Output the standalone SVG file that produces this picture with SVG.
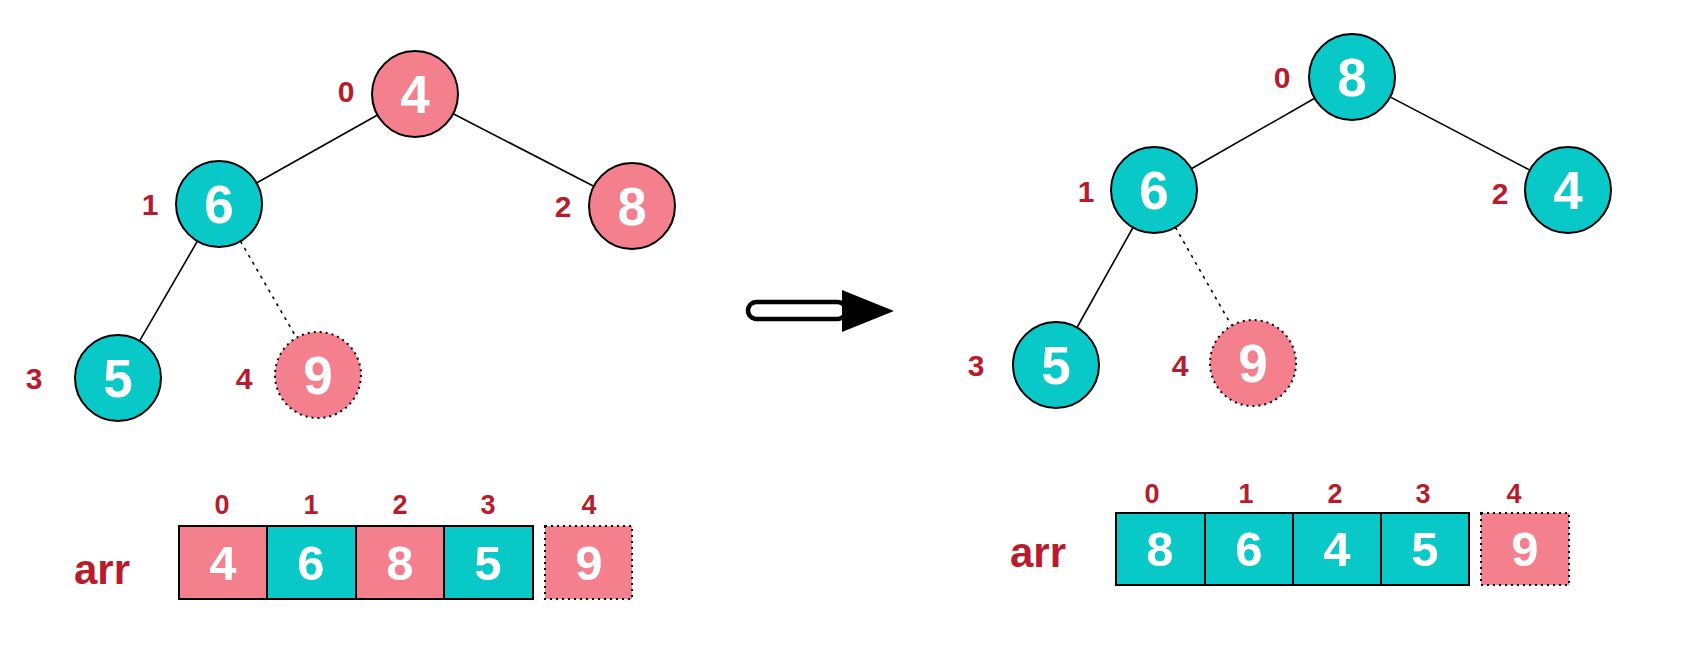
<svg xmlns="http://www.w3.org/2000/svg" width="1682" height="660" viewBox="0 0 1682 660">
<style>
.pink{fill:#F47F8D;stroke:#000;stroke-width:2}
.teal{fill:#08C8C8;stroke:#000;stroke-width:2}
.dash{stroke-dasharray:2 4}
.num{font-family:"Liberation Sans",Arial,sans-serif;font-weight:bold;font-size:53px;fill:#fff;text-anchor:middle}
.anum{font-family:"Liberation Sans",Arial,sans-serif;font-weight:bold;font-size:49px;fill:#fff;text-anchor:middle}
.idx{font-family:"Liberation Sans",Arial,sans-serif;font-weight:bold;font-size:30px;fill:#B81C2C;text-anchor:middle}
.aidx{font-family:"Liberation Sans",Arial,sans-serif;font-weight:bold;font-size:27px;fill:#B81C2C;text-anchor:middle}
.arr{font-family:"Liberation Sans",Arial,sans-serif;font-weight:bold;font-size:42px;fill:#B81C2C;text-anchor:middle}
.edge{stroke:#000;stroke-width:1.6;fill:none}
.dot{stroke:#000;stroke-width:1.6;fill:none;stroke-dasharray:3 5}
</style>
<rect width="1682" height="660" fill="#fff"/>
<g id="connectors">
<line class="edge" x1="377.5" y1="115" x2="256.5" y2="183"/>
<line class="edge" x1="453.2" y1="113.7" x2="593.8" y2="186.3"/>
<line class="edge" x1="197.4" y1="241.2" x2="139.6" y2="340.8"/>
<line class="dot" x1="240.5" y1="241.2" x2="296.5" y2="337.8"/>
<line class="edge" x1="1314.7" y1="98.3" x2="1191.3" y2="168.7"/>
<line class="edge" x1="1390.1" y1="96.9" x2="1529.9" y2="170.1"/>
<line class="edge" x1="1133" y1="227.5" x2="1077" y2="327.5"/>
<line class="dot" x1="1175.4" y1="227.3" x2="1231.6" y2="325.7"/>
</g>
<g id="L0"><circle class="pink" cx="415" cy="94" r="43"/><text class="num" x="415" y="113">4</text><text class="idx" x="346" y="102">0</text></g>
<g id="L1"><circle class="teal" cx="219" cy="204" r="43"/><text class="num" x="219" y="223">6</text><text class="idx" x="150" y="215">1</text></g>
<g id="L2"><circle class="pink" cx="632" cy="206" r="43"/><text class="num" x="632" y="225">8</text><text class="idx" x="563" y="217">2</text></g>
<g id="L3"><circle class="teal" cx="118" cy="378" r="43"/><text class="num" x="118" y="397">5</text><text class="idx" x="34" y="389">3</text></g>
<g id="L4"><circle class="pink dash" cx="318" cy="375" r="43"/><text class="num" x="318" y="394">9</text><text class="idx" x="244" y="389">4</text></g>
<g id="R0"><circle class="teal" cx="1352" cy="77" r="43"/><text class="num" x="1352" y="96">8</text><text class="idx" x="1282" y="88">0</text></g>
<g id="R1"><circle class="teal" cx="1154" cy="190" r="43"/><text class="num" x="1154" y="209">6</text><text class="idx" x="1086" y="202">1</text></g>
<g id="R2"><circle class="teal" cx="1568" cy="190" r="43"/><text class="num" x="1568" y="209">4</text><text class="idx" x="1500" y="204">2</text></g>
<g id="R3"><circle class="teal" cx="1056" cy="365" r="43"/><text class="num" x="1056" y="384">5</text><text class="idx" x="976" y="376">3</text></g>
<g id="R4"><circle class="pink dash" cx="1253" cy="363" r="43"/><text class="num" x="1253" y="382">9</text><text class="idx" x="1180" y="376">4</text></g>
<g id="arrow">
<rect x="748" y="302" width="98" height="17" rx="8.5" fill="#fff" stroke="#000" stroke-width="4.5"/>
<polygon points="842,290 894,311 842,332" fill="#000"/>
</g>
<g id="arrL">
<text class="arr" x="102" y="584">arr</text>
<rect class="pink" x="179" y="526" width="88" height="73"/><text class="anum" x="223" y="580">4</text>
<rect class="teal" x="267" y="526" width="89" height="73"/><text class="anum" x="311" y="580">6</text>
<rect class="pink" x="356" y="526" width="88" height="73"/><text class="anum" x="400" y="580">8</text>
<rect class="teal" x="444" y="526" width="89" height="73"/><text class="anum" x="488" y="580">5</text>
<rect class="pink dash" x="545" y="526" width="87" height="73"/><text class="anum" x="589" y="580">9</text>
<text class="aidx" x="222" y="514">0</text><text class="aidx" x="311" y="514">1</text><text class="aidx" x="400" y="514">2</text><text class="aidx" x="488" y="514">3</text><text class="aidx" x="589" y="514">4</text>
</g>
<g id="arrR">
<text class="arr" x="1038" y="567">arr</text>
<rect class="teal" x="1116" y="513" width="89" height="72"/><text class="anum" x="1160" y="566">8</text>
<rect class="teal" x="1205" y="513" width="88" height="72"/><text class="anum" x="1249" y="566">6</text>
<rect class="teal" x="1293" y="513" width="88" height="72"/><text class="anum" x="1337" y="566">4</text>
<rect class="teal" x="1381" y="513" width="88" height="72"/><text class="anum" x="1425" y="566">5</text>
<rect class="pink dash" x="1481" y="513" width="88" height="72"/><text class="anum" x="1525" y="566">9</text>
<text class="aidx" x="1152" y="503">0</text><text class="aidx" x="1246" y="503">1</text><text class="aidx" x="1335" y="503">2</text><text class="aidx" x="1423" y="503">3</text><text class="aidx" x="1514" y="503">4</text>
</g>
</svg>
